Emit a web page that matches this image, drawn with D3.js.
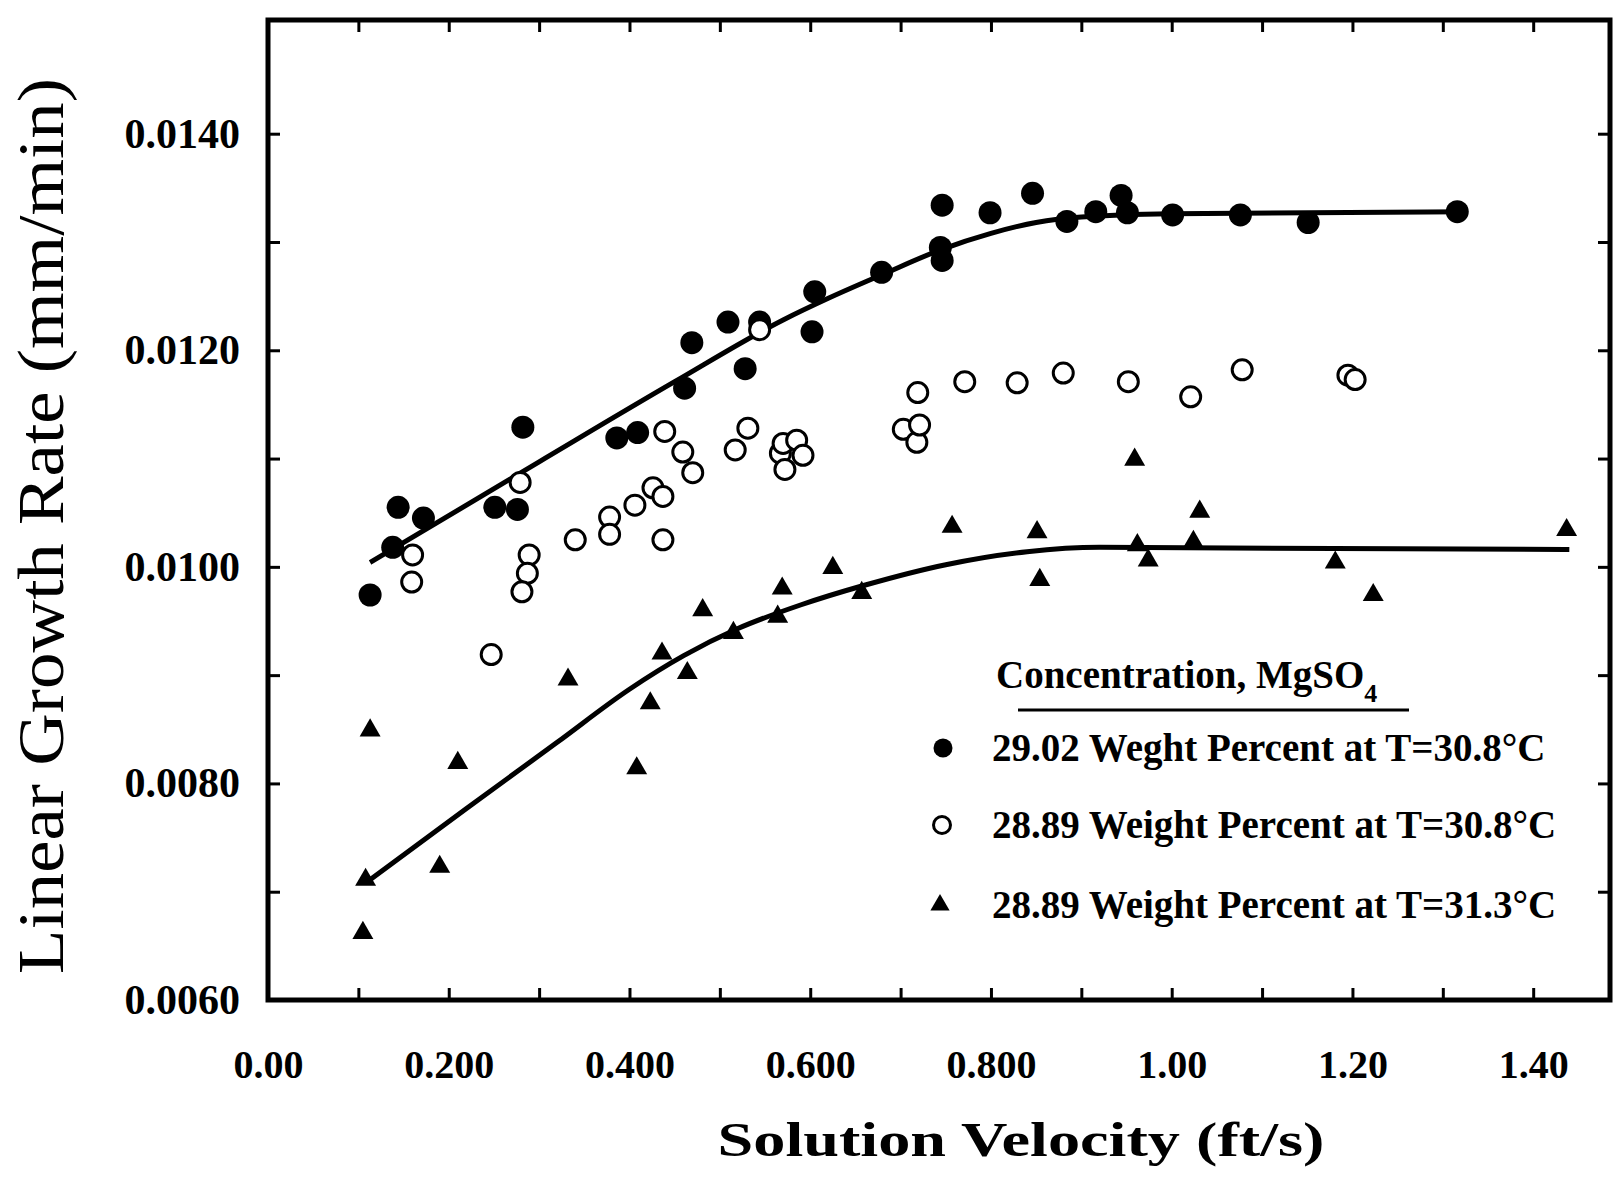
<!DOCTYPE html>
<html>
<head>
<meta charset="utf-8">
<script src="https://cdn.jsdelivr.net/npm/d3@7"></script>
<style>
    body { margin: 0; background: #fff; }
    svg { display: block; font-family: "Liberation Serif", "DejaVu Serif", serif; }
</style>
</head>
<body>
<div id="graph"></div>
<script>
// Données : [vitesse de solution (ft/s), vitesse de croissance (mm/min)]
let serie2902 = [
    [0.113, 0.00974], [0.138, 0.01018], [0.144, 0.01055], [0.172, 0.01045], [0.251, 0.01055],
    [0.276, 0.01053], [0.282, 0.01129], [0.386, 0.01119], [0.409, 0.01124], [0.461, 0.01165],
    [0.469, 0.01207], [0.509, 0.01226], [0.528, 0.01183], [0.544, 0.01226], [0.602, 0.01217],
    [0.605, 0.01254], [0.679, 0.01272], [0.744, 0.01295], [0.746, 0.01283], [0.746, 0.01334],
    [0.799, 0.01327], [0.846, 0.01345], [0.884, 0.01319], [0.916, 0.01328], [0.944, 0.01343],
    [0.951, 0.01327], [1.001, 0.01325], [1.076, 0.01325], [1.151, 0.01318], [1.316, 0.01328]
];

let serie2889_308 = [
    [0.160, 0.01011], [0.159, 0.00986], [0.247, 0.00919], [0.279, 0.01078], [0.289, 0.01011],
    [0.287, 0.00994], [0.281, 0.00977], [0.340, 0.01025], [0.378, 0.01046], [0.378, 0.01030],
    [0.406, 0.01057], [0.426, 0.01073], [0.437, 0.01065], [0.439, 0.01125], [0.437, 0.01025],
    [0.459, 0.01106], [0.470, 0.01087], [0.517, 0.01108], [0.531, 0.01128], [0.544, 0.01219],
    [0.567, 0.01105], [0.570, 0.01114], [0.572, 0.01090], [0.585, 0.01117], [0.592, 0.01103],
    [0.703, 0.01127], [0.718, 0.01115], [0.721, 0.01131], [0.719, 0.01161], [0.771, 0.01171],
    [0.829, 0.01170], [0.880, 0.01179], [0.952, 0.01171], [1.021, 0.01157], [1.078, 0.01182],
    [1.195, 0.01177], [1.203, 0.01173]
];

let serie2889_313 = [
    [0.105, 0.00662], [0.108, 0.00711], [0.113, 0.00849], [0.190, 0.00723], [0.210, 0.00819],
    [0.332, 0.00896], [0.408, 0.00814], [0.423, 0.00874], [0.436, 0.00920], [0.464, 0.00902],
    [0.481, 0.00960], [0.515, 0.00939], [0.564, 0.00954], [0.569, 0.00980], [0.625, 0.00999],
    [0.657, 0.00976], [0.757, 0.01037], [0.851, 0.01032], [0.854, 0.00988], [0.959, 0.01099],
    [0.962, 0.01020], [0.974, 0.01006], [1.024, 0.01023], [1.031, 0.01051], [1.181, 0.01004],
    [1.223, 0.00974], [1.437, 0.01034]
];

// Courbes tracées à la main sur la figure
let courbe2902 = [
    [0.113, 0.01004], [0.30, 0.01097], [0.45, 0.01171], [0.57, 0.01228], [0.62, 0.01248],
    [0.68, 0.01270], [0.745, 0.01293], [0.80, 0.01308], [0.85, 0.01318], [0.90, 0.01323],
    [1.00, 0.01326], [1.326, 0.01328]
];

let courbe2889_313 = [
    [0.108, 0.00708], [0.22, 0.00777], [0.32, 0.00838], [0.40, 0.00887], [0.46, 0.00918],
    [0.52, 0.00943], [0.59, 0.00965], [0.66, 0.00983], [0.75, 0.01002], [0.84, 0.01014],
    [0.92, 0.01018], [1.44, 0.01016]
];

// Graduations
let xTicks = [0.1, 0.2, 0.3, 0.4, 0.5, 0.6, 0.7, 0.8, 0.9, 1.0, 1.1, 1.2, 1.3, 1.4];
let xLabels = [0, 0.2, 0.4, 0.6, 0.8, 1.0, 1.2, 1.4];
let xLabelText = ["0.00", "0.200", "0.400", "0.600", "0.800", "1.00", "1.20", "1.40"];
let yTicks = [0.007, 0.008, 0.009, 0.010, 0.011, 0.012, 0.013, 0.014];
let yLabels = [0.006, 0.008, 0.010, 0.012, 0.014];

let legendTitle = "Concentration, MgSO";
let legendLabels = [
    "29.02 Weght Percent at T=30.8°C",
    "28.89 Weight Percent at T=30.8°C",
    "28.89 Weight Percent at T=31.3°C"
];

let margin = { top: 20, right: 14, bottom: 184, left: 268 },
    width = 1624 - margin.left - margin.right,
    height = 1184 - margin.top - margin.bottom;

let svg = d3.select("#graph")
    .append("svg")
    .attr("width", width + margin.left + margin.right)
    .attr("height", height + margin.top + margin.bottom)
    .append("g")
    .attr("transform", "translate(" + margin.left + "," + margin.top + ")");

let x = d3.scaleLinear()
    .domain([0, 1.485])
    .range([0, width]);

let y = d3.scaleLinear()
    .domain([0.006, 0.01505])
    .range([height, 0]);

// Petites graduations vers l'intérieur sur les 4 côtés
function ticks(g) {
    g.select(".domain").remove();
    g.selectAll(".tick line").attr("stroke", "#000").attr("stroke-width", 3);
}
svg.append("g").attr("transform", "translate(0," + height + ")")
    .call(d3.axisBottom(x).tickValues(xTicks).tickSize(-12).tickFormat(""))
    .call(ticks);
svg.append("g")
    .call(d3.axisTop(x).tickValues(xTicks).tickSize(-12).tickFormat(""))
    .call(ticks);
svg.append("g")
    .call(d3.axisLeft(y).tickValues(yTicks).tickSize(-12).tickFormat(""))
    .call(ticks);
svg.append("g").attr("transform", "translate(" + width + ",0)")
    .call(d3.axisRight(y).tickValues(yTicks).tickSize(-12).tickFormat(""))
    .call(ticks);

// Étiquettes des axes
svg.append("g").attr("transform", "translate(0," + height + ")")
    .call(d3.axisBottom(x).tickValues(xLabels).tickSize(0).tickPadding(50)
        .tickFormat((d, i) => xLabelText[i]))
    .call(g => g.select(".domain").remove())
    .selectAll("text")
    .attr("font-family", "Liberation Serif")
    .attr("font-size", 40)
    .attr("font-weight", "bold")
    .attr("fill", "#000");

svg.append("g")
    .call(d3.axisLeft(y).tickValues(yLabels).tickSize(0).tickPadding(28)
        .tickFormat(d3.format(".4f")))
    .call(g => g.select(".domain").remove())
    .selectAll("text")
    .attr("font-family", "Liberation Serif")
    .attr("font-size", 42)
    .attr("font-weight", "bold")
    .attr("fill", "#000");

// Cadre
svg.append("rect")
    .attr("width", width)
    .attr("height", height)
    .attr("fill", "none")
    .attr("stroke", "#000")
    .attr("stroke-width", 5);

// Titres des axes
svg.append("text")
    .attr("transform", "translate(" + (63 - margin.left) + "," + (526 - margin.top) + ") rotate(-90)")
    .attr("text-anchor", "middle")
    .attr("font-size", 66)
    .attr("textLength", 896)
    .attr("lengthAdjust", "spacingAndGlyphs")
    .text("Linear Growth Rate (mm/min)");

svg.append("text")
    .attr("x", 1021 - margin.left)
    .attr("y", 1156 - margin.top)
    .attr("text-anchor", "middle")
    .attr("font-size", 48)
    .attr("font-weight", "bold")
    .attr("textLength", 607)
    .attr("lengthAdjust", "spacingAndGlyphs")
    .text("Solution Velocity (ft/s)");

// Courbes
let line = d3.line()
    .x(d => x(d[0]))
    .y(d => y(d[1]))
    .curve(d3.curveMonotoneX);

[courbe2902, courbe2889_313].forEach(c => {
    svg.append("path")
        .datum(c)
        .attr("d", line)
        .attr("fill", "none")
        .attr("stroke", "#000")
        .attr("stroke-width", 5);
});

// Points
let triangle = d3.symbol().type(d3.symbolTriangle).size(190);

svg.append("g")
    .selectAll("path")
    .data(serie2889_313)
    .enter()
    .append("path")
    .attr("d", triangle)
    .attr("transform", d => "translate(" + x(d[0]) + "," + y(d[1]) + ")")
    .attr("fill", "#000");

svg.append("g")
    .selectAll("circle")
    .data(serie2902)
    .enter()
    .append("circle")
    .attr("cx", d => x(d[0]))
    .attr("cy", d => y(d[1]))
    .attr("r", 11.5)
    .attr("fill", "#000");

svg.append("g")
    .selectAll("circle")
    .data(serie2889_308)
    .enter()
    .append("circle")
    .attr("cx", d => x(d[0]))
    .attr("cy", d => y(d[1]))
    .attr("r", 10)
    .attr("fill", "#fff")
    .attr("stroke", "#000")
    .attr("stroke-width", 3);

// Légende
let legend = svg.append("g")
    .attr("transform", "translate(" + (-margin.left) + "," + (-margin.top) + ")")
    .attr("font-weight", "bold");

let title = legend.append("text")
    .attr("x", 996)
    .attr("y", 688)
    .attr("font-size", 39)
    .text(legendTitle);
title.append("tspan")
    .attr("dy", 14)
    .attr("font-size", 26)
    .text("4");

legend.append("line")
    .attr("x1", 1018).attr("x2", 1409)
    .attr("y1", 710).attr("y2", 710)
    .attr("stroke", "#000")
    .attr("stroke-width", 3);

let legendY = [748, 825, 905];
legend.append("circle")
    .attr("cx", 943).attr("cy", legendY[0]).attr("r", 9.5)
    .attr("fill", "#000");
legend.append("circle")
    .attr("cx", 942).attr("cy", legendY[1]).attr("r", 8.5)
    .attr("fill", "#fff").attr("stroke", "#000").attr("stroke-width", 3);
legend.append("path")
    .attr("d", d3.symbol().type(d3.symbolTriangle).size(160))
    .attr("transform", "translate(940," + legendY[2] + ")")
    .attr("fill", "#000");

legend.selectAll(".item")
    .data(legendLabels)
    .enter()
    .append("text")
    .attr("class", "item")
    .attr("x", 992)
    .attr("y", (d, i) => legendY[i] + 13)
    .attr("font-size", 39)
    .text(d => d);
</script>
</body>
</html>
